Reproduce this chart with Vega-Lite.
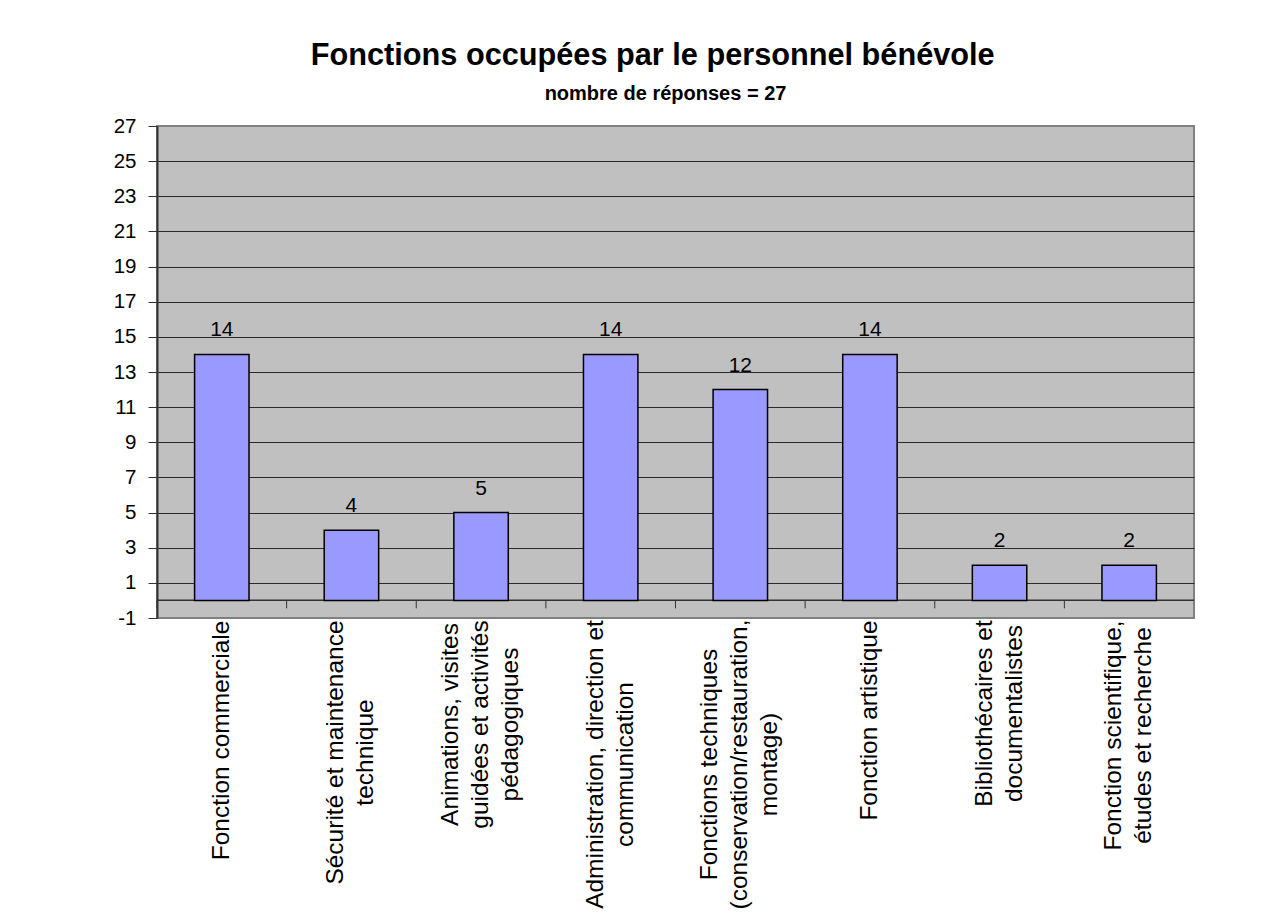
{
  "$schema": "https://vega.github.io/schema/vega-lite/v6.json",
  "autosize": {"type": "none"},
  "padding": {"left": 157, "top": 126, "right": 84, "bottom": 302},
  "width": 1037,
  "height": 492,
  "background": "white",
  "title": {
    "text": "Fonctions occupées par le personnel bénévole\u00a0\u00a0\u00a0\u200b",
    "subtitle": "nombre de réponses = 27",
    "anchor": "middle",
    "frame": "group",
    "dx": -10,
    "offset": 11,
    "font": "Liberation Sans",
    "fontSize": 30.7,
    "fontWeight": "bold",
    "color": "#000000",
    "subtitleFont": "Liberation Sans",
    "subtitleFontSize": 20,
    "subtitleFontWeight": "bold",
    "subtitleColor": "#000000",
    "subtitlePadding": 12
  },
  "data": {
    "values": [
      {"cat": "Fonction commerciale", "n": 14},
      {"cat": "Sécurité et maintenance\ntechnique", "n": 4},
      {"cat": "Animations, visites\nguidées et activités\npédagogiques", "n": 5},
      {"cat": "Administration, direction et\ncommunication", "n": 14},
      {"cat": "Fonctions techniques\n(conservation/restauration,\nmontage)", "n": 12},
      {"cat": "Fonction artistique", "n": 14},
      {"cat": "Bibliothécaires et\ndocumentalistes", "n": 2},
      {"cat": "Fonction scientifique,\nétudes et recherche", "n": 2}
    ]
  },
  "encoding": {
    "x": {
      "field": "cat",
      "type": "nominal",
      "sort": null,
      "scale": {"paddingInner": 0, "paddingOuter": 0},
      "axis": {
        "title": null,
        "labelAngle": -90,
        "labelAlign": "center",
        "labelBaseline": "middle",
        "labelExpr": "split(datum.label, '\\n')",
        "labelFont": "Liberation Sans",
        "labelFontSize": 24.5,
        "labelLineHeight": 30,
        "labelColor": "#000000",
        "labelLimit": 0,
        "labelOverlap": false,
        "labelOffset": {
          "condition": [
            {"test": "length(split(datum.value, '\\n')) == 2", "value": -15},
            {"test": "length(split(datum.value, '\\n')) == 3", "value": -30}
          ],
          "value": 0
        },
        "labelPadding": {
          "condition": [
            {"test": "indexof(datum.value, 'commerciale') >= 0", "value": 122},
            {"test": "indexof(datum.value, 'Sécurité') >= 0", "value": 134},
            {"test": "indexof(datum.value, 'Animations') >= 0", "value": 106},
            {"test": "indexof(datum.value, 'Administration') >= 0", "value": 146},
            {"test": "indexof(datum.value, 'conservation') >= 0", "value": 146},
            {"test": "indexof(datum.value, 'artistique') >= 0", "value": 102},
            {"test": "indexof(datum.value, 'Bibliothécaires') >= 0", "value": 95}
          ],
          "value": 117
        },
        "ticks": false,
        "domain": false,
        "grid": false
      }
    }
  },
  "layer": [
    {
      "mark": {"type": "rule", "color": "#333333", "strokeWidth": 1},
      "encoding": {"x": null, "y": {"datum": 0, "type": "quantitative"}}
    },
    {
      "mark": {"type": "rule", "color": "#333333", "strokeWidth": 1},
      "encoding": {
        "x": {"field": "cat", "type": "nominal", "sort": null, "bandPosition": 0},
        "y": {"datum": 0, "type": "quantitative"},
        "y2": {"datum": -0.45}
      }
    },
    {
      "mark": {"type": "bar", "width": {"band": 0.42}, "color": "#9999FF", "stroke": "#000000", "strokeWidth": 1.5},
      "encoding": {
        "y": {
          "field": "n",
          "type": "quantitative",
          "scale": {"domain": [-1, 27], "nice": false, "zero": false},
          "axis": {
            "title": null,
            "values": [-1, 1, 3, 5, 7, 9, 11, 13, 15, 17, 19, 21, 23, 25, 27],
            "tickCount": 40,
            "labelExpr": "'' + datum.value",
            "labelOverlap": false,
            "grid": true,
            "gridColor": {"condition": {"test": "datum.value == 27 || datum.value == -1", "value": "#808080"}, "value": "#2a2a2a"},
            "gridWidth": 1,
            "domainColor": "#333333",
            "domainWidth": 2,
            "tickColor": "#333333",
            "tickSize": 9,
            "tickWidth": 1,
            "labelFont": "Liberation Sans",
            "labelFontSize": 20.5,
            "labelColor": "#000000",
            "labelPadding": 12
          }
        },
        "y2": {"datum": 0}
      }
    },
    {
      "mark": {"type": "text", "font": "Liberation Sans", "fontSize": 21, "color": "#000000", "baseline": "alphabetic", "dy": -18},
      "encoding": {
        "y": {"field": "n", "type": "quantitative"},
        "text": {"field": "n", "type": "quantitative"}
      }
    }
  ],
  "config": {
    "view": {"fill": "#C0C0C0", "stroke": "#808080", "strokeWidth": 2}
  }
}
